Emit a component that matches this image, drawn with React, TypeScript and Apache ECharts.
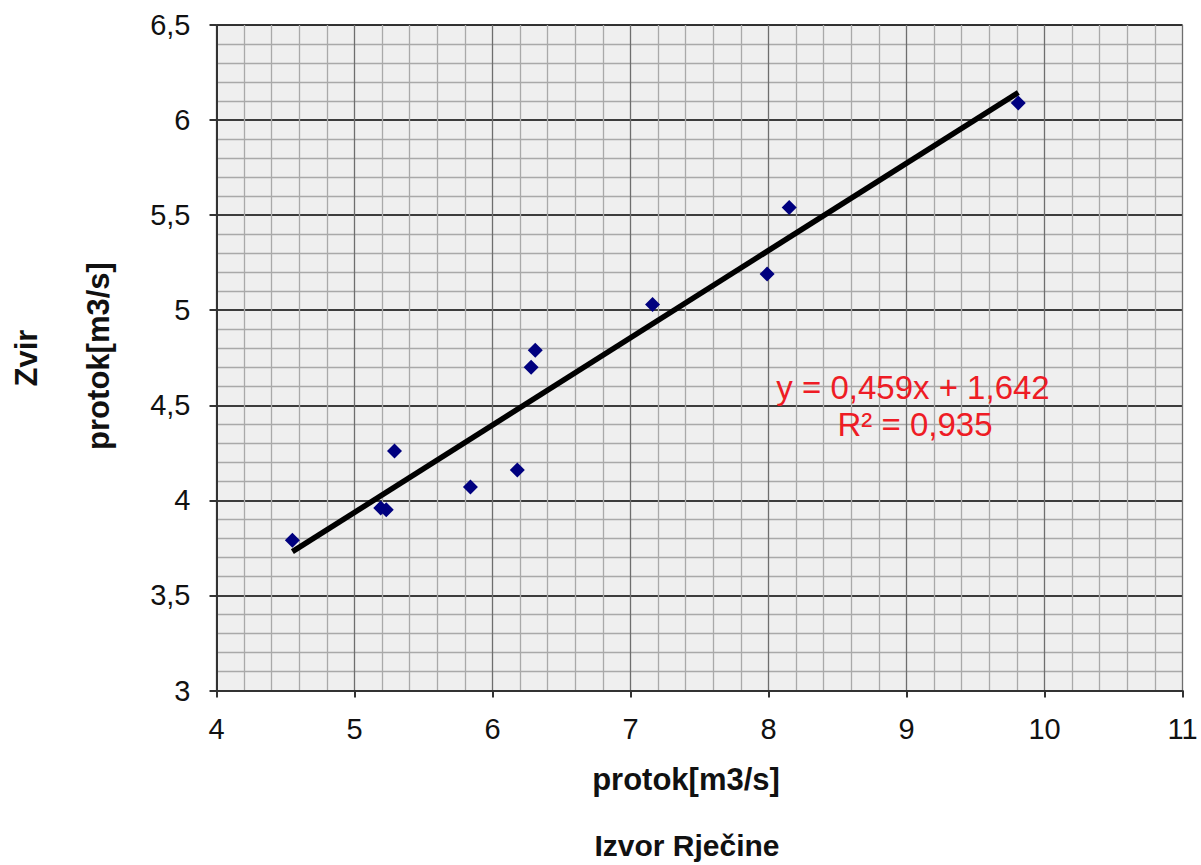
import React, { useEffect, useRef } from "react";
import * as echarts from "echarts";

const pointsX = [4.55, 5.19, 5.23, 5.29, 5.84, 6.18, 6.28, 6.31, 7.16, 7.99, 8.15, 9.81];
const pointsY = [3.79, 3.96, 3.95, 4.26, 4.07, 4.16, 4.70, 4.79, 5.03, 5.19, 5.54, 6.09];
const trendX = [4.55, 9.81];
const trendY = [3.73, 6.145];
const equationText = "y = 0,459x + 1,642";
const r2Text = "R² = 0,935";
const xName1 = "protok[m3/s]";
const xName2 = "Izvor Rječine";
const yName1 = "Zvir";
const yName2 = "protok[m3/s]";

const FONT = "'Liberation Sans', Arial, sans-serif";
const fmt = (v: number) => String(v).replace(".", ",");

export default function App() {
  const ref = useRef<HTMLDivElement>(null);
  useEffect(() => {
    if (!ref.current) return;
    const chart = echarts.init(ref.current, undefined, { renderer: "svg" });
    chart.setOption({
      animation: false,
      textStyle: { fontFamily: FONT },
      grid: {
        left: 216.5,
        top: 25,
        right: 18.5,
        bottom: 174.5,
        show: true,
        backgroundColor: "#efefef",
        borderColor: "#8a8a8a",
        borderWidth: 1,
      },
      xAxis: {
        type: "value",
        min: 4,
        max: 11,
        interval: 1,
        axisLine: { show: true, onZero: false, lineStyle: { color: "#333", width: 2 } },
        axisTick: { show: true, length: 7, lineStyle: { color: "#333", width: 2 } },
        axisLabel: { color: "#111", fontSize: 29, margin: 24, fontFamily: FONT, formatter: fmt },
        splitLine: { show: true, lineStyle: { color: "#6e6e6e", width: 1.3 } },
        minorTick: { show: false, splitNumber: 5 },
        minorSplitLine: { show: true, lineStyle: { color: "#a9a9a9", width: 1.3 } },
      },
      yAxis: {
        type: "value",
        min: 3,
        max: 6.5,
        interval: 0.5,
        axisLine: { show: true, onZero: false, lineStyle: { color: "#333", width: 2 } },
        axisTick: { show: true, length: 7, lineStyle: { color: "#333", width: 2 } },
        axisLabel: { color: "#111", fontSize: 29, margin: 26, fontFamily: FONT, formatter: fmt },
        splitLine: { show: true, lineStyle: { color: "#000", width: 1.5 } },
        minorTick: { show: false, splitNumber: 5 },
        minorSplitLine: { show: true, lineStyle: { color: "#a9a9a9", width: 1.3 } },
      },
      series: [
        {
          type: "line",
          data: trendX.map((x, i) => [x, trendY[i]]),
          symbol: "none",
          lineStyle: { color: "#000", width: 5.5 },
          z: 2,
        },
        {
          type: "scatter",
          data: pointsX.map((x, i) => [x, pointsY[i]]),
          symbol: "diamond",
          symbolSize: 15,
          itemStyle: { color: "#00007f", opacity: 1 },
          z: 3,
        },
      ],
      graphic: [
        {
          type: "text",
          x: 913,
          y: 387,
          style: { text: equationText, fill: "#ee1c25", font: `33px ${FONT}`, textAlign: "center", textVerticalAlign: "middle" },
          z: 10,
        },
        {
          type: "text",
          x: 915,
          y: 424,
          style: { text: r2Text, fill: "#ee1c25", font: `33px ${FONT}`, textAlign: "center", textVerticalAlign: "middle" },
          z: 10,
        },
        {
          type: "text",
          x: 686,
          y: 779,
          style: { text: xName1, fill: "#111", font: `bold 31px ${FONT}`, textAlign: "center", textVerticalAlign: "middle" },
        },
        {
          type: "text",
          x: 687,
          y: 845,
          style: { text: xName2, fill: "#111", font: `bold 30px ${FONT}`, textAlign: "center", textVerticalAlign: "middle" },
        },
        {
          type: "text",
          x: 26,
          y: 358,
          rotation: Math.PI / 2,
          style: { text: yName1, fill: "#111", font: `bold 31px ${FONT}`, textAlign: "center", textVerticalAlign: "middle" },
        },
        {
          type: "text",
          x: 98,
          y: 356,
          rotation: Math.PI / 2,
          style: { text: yName2, fill: "#111", font: `bold 31px ${FONT}`, textAlign: "center", textVerticalAlign: "middle" },
        },
      ],
    });
    return () => chart.dispose();
  }, []);
  return (
    <div
      ref={ref}
      style={{ position: "fixed", left: 0, top: 0, width: 1201, height: 865, background: "#fff" }}
    />
  );
}
